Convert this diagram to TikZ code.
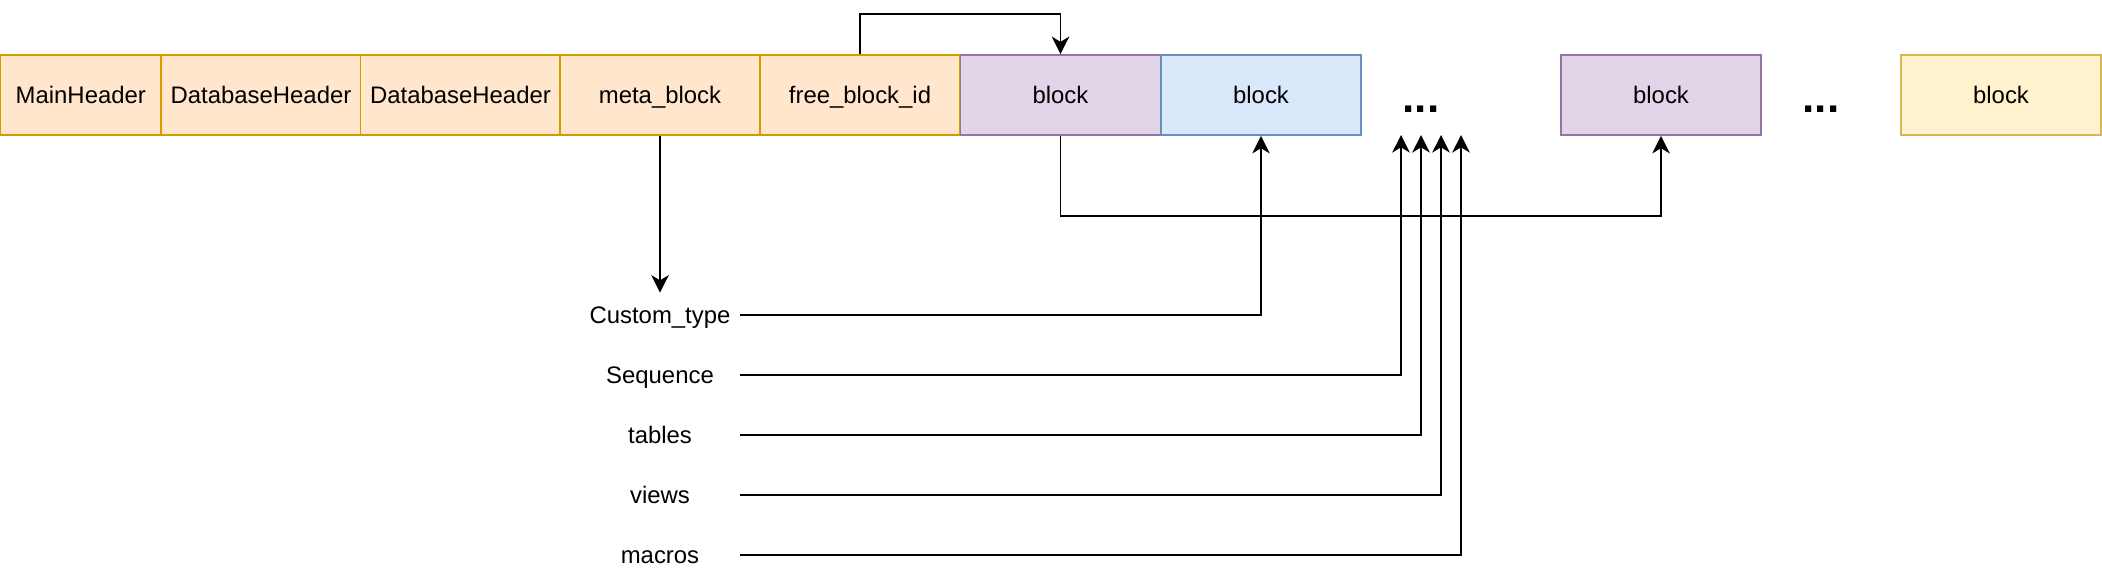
\documentclass[tikz,border=0pt]{standalone}
\usepackage{fontspec}
\setmainfont{Liberation Sans}
\usetikzlibrary{arrows.meta}

\definecolor{orangefill}{HTML}{FFE6CC}
\definecolor{orangeline}{HTML}{D79B00}
\definecolor{purplefill}{HTML}{E1D5E7}
\definecolor{purpleline}{HTML}{9673A6}
\definecolor{bluefill}{HTML}{DAE8FC}
\definecolor{blueline}{HTML}{6C8EBF}
\definecolor{yellowfill}{HTML}{FFF2CC}
\definecolor{yellowline}{HTML}{D6B656}

\begin{document}
\begin{tikzpicture}[x=0.02cm, y=-0.02cm,
    every node/.style={font=\fontsize{13.6}{16}\selectfont, inner sep=0pt},
    cell/.style={draw, line width=1pt, minimum width=4cm, minimum height=1.6cm,
        text height=12.3pt, text depth=2.9pt},
    hdr/.style={cell, draw=orangeline, fill=orangefill},
    purpleblk/.style={cell, draw=purpleline, fill=purplefill},
    blueblk/.style={cell, draw=blueline, fill=bluefill},
    yellowblk/.style={cell, draw=yellowline, fill=yellowfill},
    gap/.style={anchor=base, font=\fontsize{25}{28}\selectfont\bfseries},
    entry/.style={minimum width=3.2cm, minimum height=0.88cm,
        text height=12.3pt, text depth=2.9pt},
    arr/.style={line width=1pt, -{Stealth[length=10pt, width=10pt, inset=3pt]}}]
    \useasboundingbox (0,0) rectangle (2102,576);

    % File layout (row of blocks)
    \node[hdr, minimum width=3.21cm] (main) at (80.8,95) {MainHeader};
    \node[hdr] (db1) at (261,95) {DatabaseHeader};
    \node[hdr] (db2) at (460.5,95) {DatabaseHeader};
    \node[hdr] (meta) at (660,95) {meta\_block};
    \node[hdr] (free) at (860,95) {free\_block\_id};
    \node[purpleblk] (blk1) at (1060.5,95) {block};
    \node[blueblk] (blk2) at (1261,95) {block};
    \node[gap] (dots1) at (1421,112) {...};
    \node[purpleblk] (blk3) at (1661,95) {block};
    \node[gap] (dots2) at (1821,112) {...};
    \node[yellowblk] (blk4) at (2001,95) {block};

    % Contents of meta_block
    \node[entry] (ctype) at (660,315) {Custom\_type};
    \node[entry] (seq) at (660,375) {Sequence};
    \node[entry] (tbl) at (660,435) {tables};
    \node[entry] (vw) at (660,495) {views};
    \node[entry] (mac) at (660,555) {macros};

    \coordinate (in1) at (1401,135);
    \coordinate (in2) at (1421,135);
    \coordinate (in3) at (1441,135);
    \coordinate (in4) at (1461,135);

    % Links
    \draw[arr] (free.north) -- ++(0,-40) -| (blk1.north);
    \draw[arr] (blk1.south) -- ++(0,80) -| (blk3.south);
    \draw[arr] (meta.south) -- (ctype.north);
    \draw[arr] (ctype.east) -| (blk2.south);
    \draw[arr] (seq.east) -| (in1);
    \draw[arr] (tbl.east) -| (in2);
    \draw[arr] (vw.east) -| (in3);
    \draw[arr] (mac.east) -| (in4);
\end{tikzpicture}
\end{document}
